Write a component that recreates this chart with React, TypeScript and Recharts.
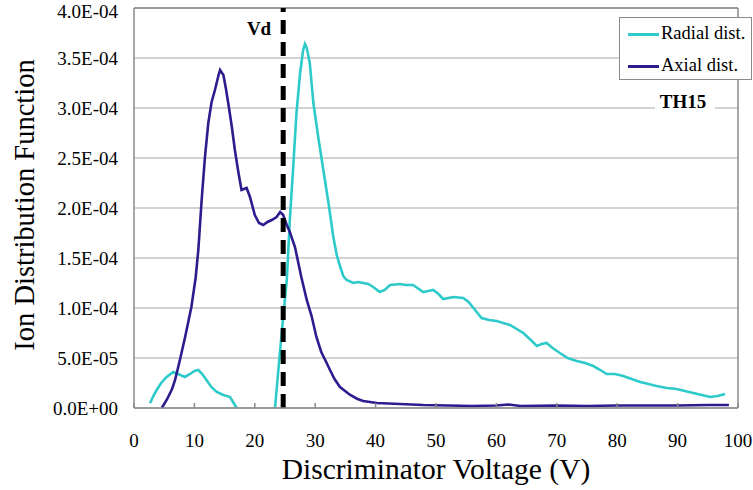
import React from 'react';
import { LineChart, Line, XAxis, YAxis, CartesianGrid, ReferenceLine, ReferenceDot, Legend } from 'recharts';

// Radial distribution (cyan) — voltage (V) and IDF values; null = curve absent (below axis)
const radialV = [2.65, 3.2, 3.75, 4.5, 5.4, 6.5, 7.3, 8.4, 9.3, 10.0, 10.65, 11.3, 12.0, 12.8, 13.7, 14.8, 15.9, 16.5, 17.0, 20.0,
  23.35, 24.0, 24.7, 25.3, 25.8, 26.4, 26.9, 27.5, 28.0, 28.3, 28.6, 29.1, 29.7, 30.5, 31.35, 32.2, 33.0, 33.6, 34.1, 34.65, 35.2,
  36.3, 37.1, 37.95, 38.8, 39.6, 40.7, 41.5, 42.4, 44.0, 45.0, 46.2, 47.9, 48.7, 49.55, 50.4, 51.2, 52.85, 54.5, 55.4, 56.2,
  57.55, 58.8, 60.05, 62.25, 64.45, 65.7, 66.7, 67.5, 68.3, 69.3, 70.5, 71.8, 73.3, 74.7, 76.05, 77.2, 78.25, 79.6, 81.0,
  82.4, 83.8, 85.2, 86.5, 88.2, 89.85, 91.2, 92.6, 94.0, 95.4, 96.6, 97.85];
const radialF = [4.7e-6, 1.2e-5, 1.8e-5, 2.5e-5, 3.1e-5, 3.6e-5, 3.4e-5, 3.1e-5, 3.4e-5, 3.7e-5, 3.8e-5, 3.4e-5, 2.8e-5, 2.1e-5, 1.6e-5, 1.3e-5, 1.1e-5, 5e-6, 0, null,
  0, 4.5e-5, 9.1e-5, 1.28e-4, 1.88e-4, 2.45e-4, 2.95e-4, 3.35e-4, 3.58e-4, 3.64e-4, 3.6e-4, 3.45e-4, 3.05e-4, 2.71e-4, 2.38e-4, 2.05e-4, 1.71e-4, 1.52e-4, 1.42e-4, 1.32e-4, 1.28e-4,
  1.25e-4, 1.26e-4, 1.25e-4, 1.24e-4, 1.21e-4, 1.16e-4, 1.18e-4, 1.23e-4, 1.24e-4, 1.23e-4, 1.23e-4, 1.16e-4, 1.17e-4, 1.18e-4, 1.14e-4, 1.09e-4, 1.11e-4, 1.10e-4, 1.06e-4, 1.0e-4,
  9.0e-5, 8.8e-5, 8.7e-5, 8.3e-5, 7.5e-5, 6.8e-5, 6.2e-5, 6.4e-5, 6.5e-5, 6.0e-5, 5.5e-5, 5.0e-5, 4.7e-5, 4.5e-5, 4.2e-5, 3.8e-5, 3.4e-5, 3.4e-5, 3.2e-5,
  2.9e-5, 2.6e-5, 2.4e-5, 2.2e-5, 2.0e-5, 1.9e-5, 1.7e-5, 1.5e-5, 1.3e-5, 1.1e-5, 1.2e-5, 1.4e-5];

// Axial distribution (dark blue)
const axialV = [4.6, 5.5, 6.3, 6.8, 7.6, 8.5, 9.5, 10.2, 10.65, 11.2, 11.75, 12.3, 12.85, 13.4, 14.0, 14.25, 14.8, 15.2, 15.6, 16.2,
  16.7, 17.3, 17.8, 18.2, 18.65, 19.2, 20.0, 20.7, 21.4, 22.1, 22.8, 23.6, 24.2, 24.7, 25.3, 25.8, 26.65, 27.7, 28.6, 29.4,
  30.2, 31.0, 31.9, 32.45, 33.2, 34.1, 35.8, 37.0, 37.95, 40.2, 44.0, 47.9, 52.0, 56.0, 60.0, 62.0, 64.0, 70.0, 75.0, 80.0,
  85.0, 90.0, 95.0, 98.5];
const axialF = [0, 9e-6, 1.9e-5, 2.8e-5, 4.8e-5, 7.2e-5, 1.01e-4, 1.3e-4, 1.58e-4, 2.08e-4, 2.51e-4, 2.85e-4, 3.06e-4, 3.18e-4, 3.33e-4, 3.38e-4, 3.33e-4, 3.2e-4, 3.05e-4, 2.81e-4,
  2.58e-4, 2.35e-4, 2.18e-4, 2.19e-4, 2.2e-4, 2.11e-4, 1.93e-4, 1.85e-4, 1.83e-4, 1.86e-4, 1.88e-4, 1.91e-4, 1.96e-4, 1.93e-4, 1.83e-4, 1.76e-4, 1.61e-4, 1.31e-4, 1.08e-4, 9.2e-5,
  7.1e-5, 5.6e-5, 4.5e-5, 3.8e-5, 2.9e-5, 2.1e-5, 1.3e-5, 9e-6, 7e-6, 5e-6, 4e-6, 3e-6, 2.5e-6, 2e-6, 2.5e-6, 3.5e-6, 2e-6, 2.5e-6, 2e-6, 2.5e-6,
  2.5e-6, 2.5e-6, 3e-6, 3e-6];

const xTicks = [0, 10, 20, 30, 40, 50, 60, 70, 80, 90, 100];
const yTicks = [0, 0.00005, 0.0001, 0.00015, 0.0002, 0.00025, 0.0003, 0.00035, 0.0004];
const vdVoltage = 24.7;
const seriesNames = ['Radial dist.', 'Axial dist.'];
const annotation = 'TH15';
const vdLabel = 'Vd';
const xTitle = 'Discriminator Voltage (V)';
const yTitle = 'Ion Distribution Function';

const radialData = radialV.map((v, i) => ({ v, f: radialF[i] }));
const axialData = axialV.map((v, i) => ({ v, f: axialF[i] }));

const CYAN = '#2ECACA';
const NAVY = '#2C1C8E';
const FONT = "'Liberation Serif', 'Times New Roman', serif";
const GRID = '#c4c4c4';
const AXIS = '#8a8a8a';

const fmtY = (v: number) => {
  if (v === 0) return '0.0E+00';
  const [m, e] = v.toExponential(1).split('e');
  const ei = parseInt(e, 10);
  return m + 'E' + (ei < 0 ? '-' : '+') + String(Math.abs(ei)).padStart(2, '0');
};

const LegendBox = () => (
  <div style={{ position: 'relative', width: 131, height: 61, border: '1px solid #8a8a8a', background: '#fff', fontFamily: FONT, fontSize: 18.5, color: '#000' }}>
    {[CYAN, NAVY].map((c, i) => (
      <div key={i} style={{ position: 'absolute', left: 0, top: i === 0 ? 0 : 32, height: 32, width: 131 }}>
        <div style={{ position: 'absolute', left: 8, top: 15, width: 31, height: 3, background: c }} />
        <span style={{ position: 'absolute', left: 41, top: 4, whiteSpace: 'nowrap', lineHeight: '22px' }}>{seriesNames[i]}</span>
      </div>
    ))}
  </div>
);

export default function App() {
  return (
    <div style={{ position: 'absolute', left: 0, top: 0, width: 753, height: 490, background: '#fff' }}>
      <LineChart width={753} height={490} margin={{ top: 8, right: 15, bottom: 0, left: 0 }}>
        <CartesianGrid horizontal vertical={false} stroke={GRID} strokeWidth={1.5} />
        <XAxis
          type="number"
          dataKey="v"
          domain={[0, 100]}
          ticks={xTicks}
          allowDuplicatedCategory={false}
          height={82}
          stroke={AXIS}
          axisLine={{ stroke: AXIS, strokeWidth: 1.5 }}
          tickLine={{ stroke: AXIS, strokeWidth: 1.5 }}
          tickSize={-5}
          tickMargin={31}
          tick={{ fill: '#000', fontSize: 19, fontFamily: FONT }}
          label={(props: any) => {
            const vb = props.viewBox;
            return (
              <text x={vb.x + vb.width / 2} y={479} textAnchor="middle" fontFamily={FONT} fontSize={29.5} fill="#000">{xTitle}</text>
            );
          }}
        />
        <YAxis
          type="number"
          domain={[0, 0.0004]}
          ticks={yTicks}
          width={134}
          axisLine={{ stroke: AXIS, strokeWidth: 1.5 }}
          tickLine={false}
          tickSize={8}
          tickMargin={8}
          tickFormatter={fmtY}
          tick={{ fill: '#000', fontSize: 19, fontFamily: FONT }}
          label={(props: any) => {
            const vb = props.viewBox;
            const cy = vb.y + vb.height / 2 - 3;
            return (
              <text x={34} y={cy} transform={`rotate(-90, 34, ${cy})`} textAnchor="middle" fontFamily={FONT} fontSize={28.5} fill="#000">{yTitle}</text>
            );
          }}
        />
        <ReferenceLine y={0.0004} stroke={AXIS} strokeWidth={1.5} />
        <ReferenceLine x={100} stroke={AXIS} strokeWidth={1.5} />
        <ReferenceDot
          x={90.9}
          y={0.000307}
          r={0}
          shape={(p: any) => (
            <g>
              <rect x={p.cx - 28} y={p.cy - 12} width={60} height={20} fill="#fff" />
              <text x={p.cx} y={p.cy + 6.5} textAnchor="middle" fontFamily={FONT} fontWeight="bold" fontSize={19} fill="#000">{annotation}</text>
            </g>
          )}
        />
        <Line data={radialData} dataKey="f" name={seriesNames[0]} stroke={CYAN} strokeWidth={2.6} dot={false} isAnimationActive={false} connectNulls={false} type="linear" />
        <Line data={axialData} dataKey="f" name={seriesNames[1]} stroke={NAVY} strokeWidth={2.6} dot={false} isAnimationActive={false} type="linear" />
        <ReferenceLine
          x={vdVoltage}
          stroke="#000"
          strokeWidth={5}
          strokeDasharray="14 8"
          label={(props: any) => {
            const vb = props.viewBox;
            return (
              <text x={vb.x - 12} y={35} textAnchor="end" fontFamily={FONT} fontWeight="bold" fontSize={19} fill="#000">{vdLabel}</text>
            );
          }}
        />
        <Legend
          layout="vertical"
          align="center"
          verticalAlign="middle"
          wrapperStyle={{ left: 619, top: 17, width: 133 }}
          content={() => <LegendBox />}
        />
      </LineChart>
    </div>
  );
}
